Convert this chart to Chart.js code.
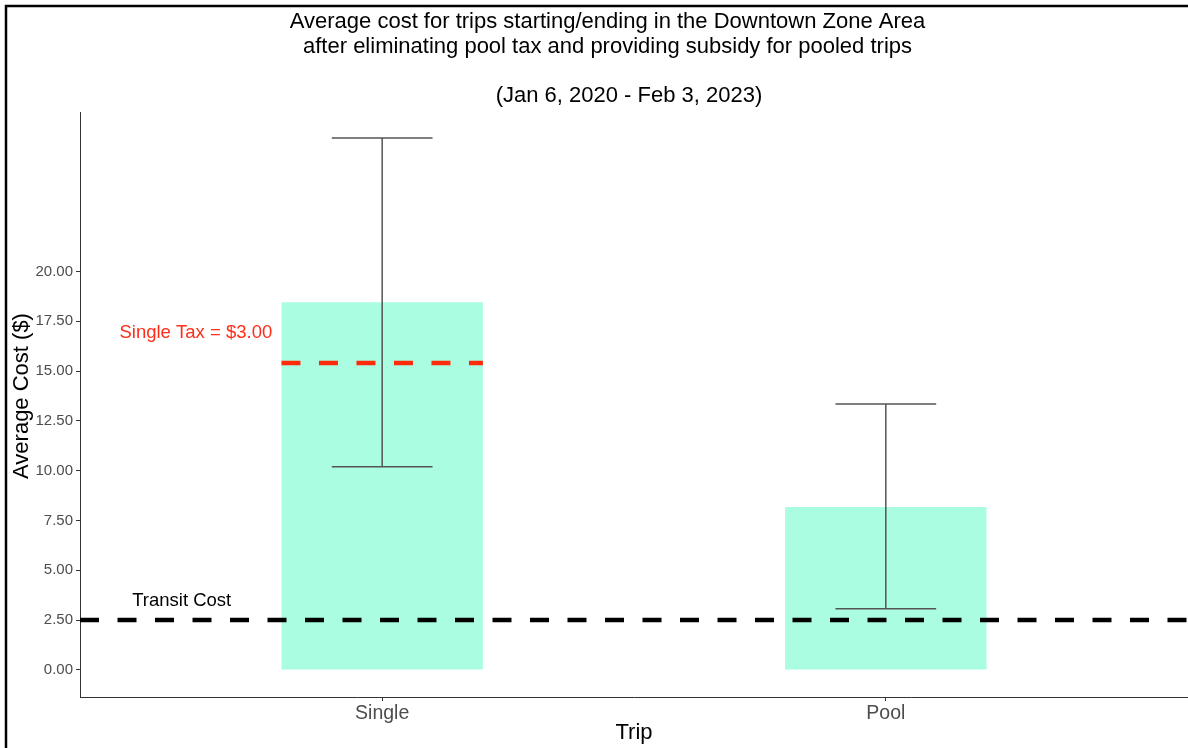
<!DOCTYPE html>
<html><head><meta charset="utf-8">
<script src="https://cdn.jsdelivr.net/npm/chart.js@4.4.0/dist/chart.umd.min.js"></script>
<style>html,body{margin:0;padding:0;background:#fff;}canvas{display:block;}</style>
</head><body>
<canvas id="c" width="1188" height="748"></canvas>
<script>
// ---- data ----
const categories = ['Single', 'Pool'];
const categoryPos = [1, 2];
const avgCost = [18.45, 8.18];
const errLow = [10.19, 3.07];
const errHigh = [26.69, 13.34];
const yTickValues = [0, 2.5, 5, 7.5, 10, 12.5, 15, 17.5, 20];
const transitCost = 2.5;
const singleTaxLevel = 15.4;
const singleTaxLabel = 'Single Tax = $3.00';
const transitLabel = 'Transit Cost';
const titleLines = [
  'Average cost for trips starting/ending in the Downtown Zone Area',
  'after eliminating pool tax and providing subsidy for pooled trips',
  '',
  '(Jan 6, 2020 - Feb 3, 2023)'
];
const xAxisTitle = 'Trip';
const yAxisTitle = 'Average Cost ($)';

// ---- layout/style constants ----
const X_MIN = 0.4, X_MAX = 2.6;
const Y_MIN = -1.36, Y_MAX = 28.0;
const BAR_HALF = 0.2, CAP_HALF = 0.1;
const FONT = "'Liberation Sans', Arial, Helvetica, sans-serif";

const barData = categoryPos.map((x, i) => ({x: x, y: avgCost[i]}));
const transitData = [{x: X_MIN, y: transitCost}, {x: X_MAX, y: transitCost}];
const taxData = [{x: categoryPos[0] - BAR_HALF, y: singleTaxLevel}, {x: categoryPos[0] + BAR_HALF, y: singleTaxLevel}];

const decorPlugin = {
  id: 'decor',
  beforeDraw(chart) {
    const ctx = chart.ctx;
    ctx.save();
    ctx.fillStyle = '#fff';
    ctx.fillRect(0, 0, chart.width, chart.height);
    ctx.strokeStyle = '#000';
    ctx.lineWidth = 2.5;
    ctx.beginPath();
    ctx.moveTo(6, chart.height + 2);
    ctx.lineTo(6, 6);
    ctx.lineTo(chart.width + 2, 6);
    ctx.stroke();
    ctx.restore();
  },
  afterDatasetsDraw(chart) {
    const ctx = chart.ctx;
    const xs = chart.scales.x, ys = chart.scales.y;
    ctx.save();
    ctx.strokeStyle = '#555';
    ctx.lineWidth = 1.5;
    categoryPos.forEach((p, i) => {
      const cx = xs.getPixelForValue(p);
      const l = xs.getPixelForValue(p - CAP_HALF);
      const r = xs.getPixelForValue(p + CAP_HALF);
      const yl = ys.getPixelForValue(errLow[i]);
      const yh = ys.getPixelForValue(errHigh[i]);
      ctx.beginPath();
      ctx.moveTo(cx, yl); ctx.lineTo(cx, yh);
      ctx.moveTo(l, yl); ctx.lineTo(r, yl);
      ctx.moveTo(l, yh); ctx.lineTo(r, yh);
      ctx.stroke();
    });
    // annotations
    ctx.textAlign = 'center';
    ctx.textBaseline = 'middle';
    ctx.font = '18.5px ' + FONT;
    ctx.fillStyle = '#ff2d1a';
    ctx.fillText(singleTaxLabel, xs.getPixelForValue(0.63), ys.getPixelForValue(16.9));
    ctx.fillStyle = '#000';
    ctx.fillText(transitLabel, xs.getPixelForValue(0.602), ys.getPixelForValue(3.47));
    ctx.restore();
  },
  afterDraw(chart) {
    const ctx = chart.ctx;
    ctx.save();
    ctx.fillStyle = '#000';
    ctx.textAlign = 'center';
    ctx.textBaseline = 'middle';
    ctx.font = '22px ' + FONT;
    const titleX = [607.5, 607.5, 607.5, 629];
    const titleY = [22, 47, 72, 96];
    titleLines.forEach((t, i) => { if (t) ctx.fillText(t, titleX[i], titleY[i]); });
    // axis titles
    const ca = chart.chartArea;
    ctx.fillText(xAxisTitle, (ca.left + ca.right) / 2, 733);
    ctx.translate(22, 396);
    ctx.rotate(-Math.PI / 2);
    ctx.fillText(yAxisTitle, 0, 0);
    ctx.restore();
  }
};

new Chart(document.getElementById('c'), {
  type: 'bar',
  data: {
    datasets: [
      {
        type: 'line', data: transitData, borderColor: '#000', borderWidth: 4.5,
        borderDash: [19, 18.5], borderCapStyle: 'butt', pointRadius: 0, fill: false, order: 1
      },
      {
        type: 'line', data: taxData, borderColor: '#ff2a0a', borderWidth: 4.5,
        borderDash: [19, 18.5], borderCapStyle: 'butt', pointRadius: 0, fill: false, order: 1
      },
      {
        type: 'bar', data: barData, backgroundColor: '#aafde1', borderWidth: 0,
        barPercentage: 0.4, categoryPercentage: 1.0, order: 3
      }
    ]
  },
  options: {
    responsive: false,
    animation: false,
    devicePixelRatio: 1,
    layout: {padding: {top: 112, left: 0, right: 0, bottom: 0}},
    plugins: {legend: {display: false}, title: {display: false}, tooltip: {enabled: false}},
    scales: {
      x: {
        type: 'linear', min: X_MIN, max: X_MAX, offset: false,
        grid: {display: true, drawOnChartArea: false, drawTicks: true, tickLength: 4, color: '#333', offset: false},
        border: {display: true, color: '#333', width: 1},
        afterBuildTicks: s => { s.ticks = categoryPos.map(v => ({value: v})); },
        afterFit: s => { s.height = 51; },
        ticks: {
          autoSkip: false, maxRotation: 0, padding: 1, color: '#4d4d4d',
          font: {family: FONT, size: 19.5},
          callback: (v, i) => categories[i]
        }
      },
      y: {
        type: 'linear', min: Y_MIN, max: Y_MAX,
        grid: {display: true, drawOnChartArea: false, drawTicks: true, tickLength: 4, color: '#333'},
        border: {display: true, color: '#333', width: 1},
        afterBuildTicks: s => { s.ticks = yTickValues.map(v => ({value: v})); },
        afterFit: s => { s.width = 80; },
        ticks: {
          padding: 3, color: '#4d4d4d', font: {family: FONT, size: 15},
          callback: v => Number(v).toFixed(2)
        }
      }
    }
  },
  plugins: [decorPlugin]
});
</script>
</body></html>
